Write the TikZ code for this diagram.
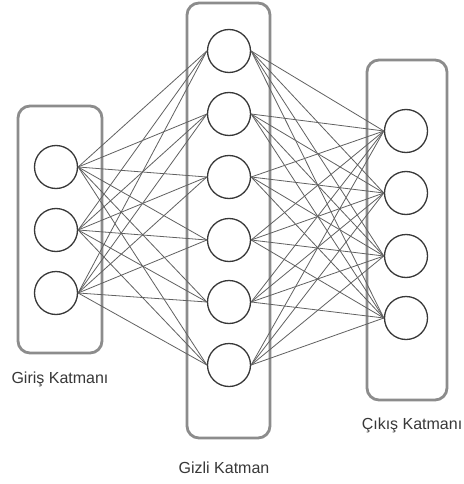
\documentclass[tikz,border=0pt]{standalone}
\usepackage{fontspec}
\setmainfont{Liberation Sans}
\begin{document}
\begin{tikzpicture}[x=1pt,y=-1pt,
  layerbox/.style={draw=black!45, line width=2.8pt, rounded corners=12pt},
  neuron/.style={circle, draw=black!78, line width=1.3pt, minimum size=43pt, inner sep=0pt, fill=white},
  link/.style={draw=black!62, line width=0.8pt},
  lbl/.style={text=black!78, font=\fontsize{16}{19}\selectfont, inner sep=0pt}]
\useasboundingbox[fill=white] (0,0) rectangle (463,484);
% layer boxes
\draw[layerbox] (18,106) rectangle (102,353);
\draw[layerbox] (187,3) rectangle (270,438);
\draw[layerbox] (367,60) rectangle (447,400);
% neurons
\foreach \y [count=\i] in {167,230,293}
  \node[neuron] (i\i) at (56,\y) {};
\foreach \y [count=\i] in {51,114,177,240,302,365}
  \node[neuron] (h\i) at (229,\y) {};
\foreach \y [count=\i] in {131,193,256,318}
  \node[neuron] (o\i) at (406,\y) {};
% connections
\begin{scope}[on background layer/.style={}]
\foreach \a in {1,2,3}
  \foreach \b in {1,...,6}
    \draw[link] (i\a.east) -- (h\b.west);
\foreach \a in {1,...,6}
  \foreach \b in {1,...,4}
    \draw[link] (h\a.east) -- (o\b.west);
\end{scope}
% labels
\node[lbl] (lin) at (60,379) {Giriş Katmanı};
\node[lbl] (lhid) at (224,468) {Gizli Katman};
\node[lbl] (lout) at (412,425) {Çıkış Katmanı};
\end{tikzpicture}
\end{document}
